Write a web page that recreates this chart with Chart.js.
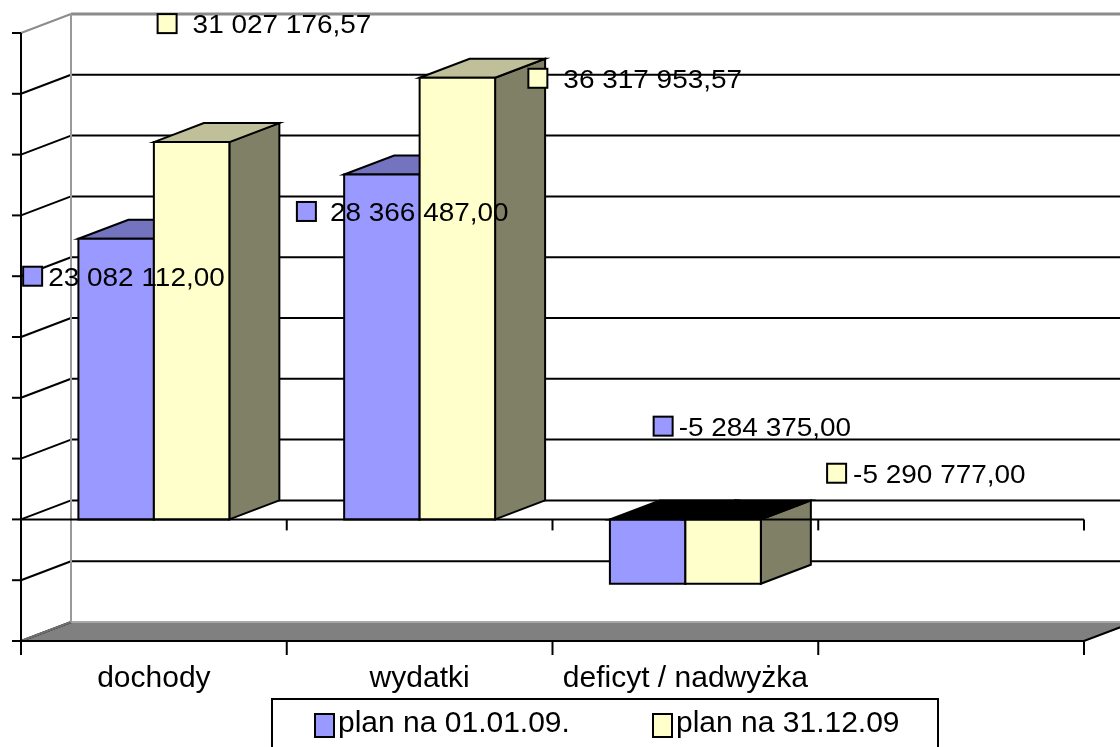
<!DOCTYPE html>
<html><head><meta charset="utf-8">
<script src="https://cdn.jsdelivr.net/npm/chart.js@4.4.1/dist/chart.umd.min.js"></script>
<style>html,body{margin:0;padding:0;background:#fff;overflow:hidden}canvas{display:block}</style>
</head><body>
<canvas id="c" width="1120" height="747"></canvas>
<script>
// ---- data ----
const categories = ['dochody', 'wydatki', 'deficyt / nadwyżka', ''];
const seriesNames = ['plan na 01.01.09.', 'plan na 31.12.09'];
const planStart = [23082112.00, 28366487.00, -5284375.00, null];
const planEnd = [31027176.57, 36317953.57, -5290777.00, null];
const yMin = -10000000, yMax = 40000000, yStep = 5000000;

// ---- style ----
const frontColors = ['#9999FF', '#FFFFCC'];
const topColors = ['#7373BF', '#BFBF99'];
const sideColors = ['#4D4D80', '#808066'];
const DX = 50, DY = -19;
const FONT = '"Liberation Sans", Arial, sans-serif';
// label placement relative to bar centre / value pixel: [squareDx, textDx, baselineDy]
const labelOffsets = [
  [[-93, -68, 47], [-85, -52, 46.5], [6, 31, -148]],
  [[-34, 1, -109], [71, 106, 10], [104, 130, -101]]
];

function fmt(v) {
  const neg = v < 0;
  let s = Math.abs(v).toFixed(2);
  let [i, d] = s.split('.');
  i = i.replace(/\B(?=(\d{3})+(?!\d))/g, ' ');
  return (neg ? '-' : '') + i + ',' + d;
}
function line(ctx, x1, y1, x2, y2, col, lw) {
  ctx.beginPath(); ctx.moveTo(x1, y1); ctx.lineTo(x2, y2);
  ctx.strokeStyle = col; ctx.lineWidth = lw; ctx.stroke();
}
function poly(ctx, pts, fill, stroke, lw) {
  ctx.beginPath(); ctx.moveTo(pts[0][0], pts[0][1]);
  for (let k = 1; k < pts.length; k++) ctx.lineTo(pts[k][0], pts[k][1]);
  ctx.closePath();
  if (fill) { ctx.fillStyle = fill; ctx.fill(); }
  if (stroke) { ctx.strokeStyle = stroke; ctx.lineWidth = lw; ctx.lineJoin = 'miter'; ctx.stroke(); }
}

const threeD = {
  id: 'threeD',
  beforeDatasetsDraw(chart) {
    const ctx = chart.ctx, a = chart.chartArea, y = chart.scales.y;
    const W = chart.width;
    const n = categories.length, slot = (a.right - a.left) / n;
    ctx.save();
    const fb = a.bottom;
    // floor
    poly(ctx, [[a.left, fb], [a.left + DX, fb + DY], [a.right + DX, fb + DY], [a.right, fb]], '#808080', '#000', 2);
    line(ctx, a.left + DX, fb + DY, W, fb + DY, '#a8a8a8', 2);
    line(ctx, a.left, fb, a.left + DX, fb + DY, '#707070', 2);
    // back & side wall gridlines
    for (let v = yMin + yStep; v <= yMax; v += yStep) {
      const yf = y.getPixelForValue(v), yb = yf + DY;
      const col = v === yMax ? '#8c8c8c' : '#000';
      line(ctx, a.left, yf, a.left + DX, yb, col, 2);
      line(ctx, a.left + DX, yb, W, yb, col, v === yMax ? 3 : 2);
    }
    // back wall left edge
    line(ctx, a.left + DX, a.top + DY, a.left + DX, fb + DY, '#999', 2);
    // value axis
    line(ctx, a.left, a.top, a.left, fb, '#000', 2);
    for (let v = yMin; v <= yMax; v += yStep) {
      const yf = y.getPixelForValue(v);
      line(ctx, a.left - 9, yf, a.left, yf, '#000', 2);
    }
    // category axis on floor
    line(ctx, a.left, fb, a.right, fb, '#000', 2);
    for (let k = 0; k <= n; k++) {
      const xk = a.left + k * slot;
      line(ctx, xk, fb, xk, fb + 14, '#000', 2);
    }
    ctx.restore();
  },
  afterDatasetsDraw(chart) {
    const ctx = chart.ctx, a = chart.chartArea, y = chart.scales.y, x = chart.scales.x;
    const n = categories.length, slot = (a.right - a.left) / n;
    const metas = chart.data.datasets.map((d, i) => chart.getDatasetMeta(i));
    ctx.save();
    // bars in painter's order
    for (let i = 0; i < n; i++) {
      metas.forEach((meta, d) => {
        const v = chart.data.datasets[d].data[i];
        if (v === null || v === undefined) return;
        const bar = meta.data[i];
        const x0 = bar.x - bar.width / 2, x1 = bar.x + bar.width / 2;
        const yT = Math.min(bar.y, bar.base), yB = Math.max(bar.y, bar.base);
        poly(ctx, [[x1, yT], [x1 + DX, yT + DY], [x1 + DX, yB + DY], [x1, yB]], sideColors[d], '#000', 2);
        poly(ctx, [[x0, yT], [x0 + DX, yT + DY], [x1 + DX, yT + DY], [x1, yT]], v < 0 ? '#000' : topColors[d], '#000', 2);
        poly(ctx, [[x0, yT], [x1, yT], [x1, yB], [x0, yB]], frontColors[d], '#000', 2);
      });
    }
    // zero line with ticks
    const y0 = y.getPixelForValue(0);
    line(ctx, a.left, y0, a.right, y0, '#000', 2);
    for (let k = 1; k <= n; k++) {
      const xk = a.left + k * slot;
      line(ctx, xk, y0, xk, y0 + 11, '#000', 2);
    }
    // data labels
    ctx.font = '26px ' + FONT;
    ctx.textBaseline = 'alphabetic';
    ctx.textAlign = 'left';
    metas.forEach((meta, d) => {
      chart.data.datasets[d].data.forEach((v, i) => {
        if (v === null || v === undefined) return;
        const bar = meta.data[i];
        const off = labelOffsets[d][i];
        const sx = bar.x + off[0], tx = bar.x + off[1], by = bar.y + off[2];
        ctx.fillStyle = frontColors[d];
        ctx.fillRect(sx, by - 19, 19, 19);
        ctx.strokeStyle = '#000'; ctx.lineWidth = 2;
        ctx.strokeRect(sx, by - 19, 19, 19);
        ctx.save();
        ctx.translate(tx, by);
        ctx.scale(1.075, 1);
        ctx.fillStyle = '#000';
        ctx.fillText(fmt(v), 0, 0);
        ctx.restore();
      });
    });
    // category labels
    ctx.font = '30px ' + FONT;
    ctx.textAlign = 'center';
    ctx.fillStyle = '#000';
    categories.forEach((c, i) => {
      if (!c) return;
      ctx.fillText(c, x.getPixelForValue(i), a.bottom + 46);
    });
    // legend
    const lx = 272, ly = 699, lw = 666;
    ctx.fillStyle = '#fff';
    ctx.fillRect(lx, ly, lw, 60);
    ctx.strokeStyle = '#000'; ctx.lineWidth = 2;
    ctx.strokeRect(lx, ly, lw, 60);
    const entryX = [315, 653];
    ctx.textAlign = 'left';
    ctx.font = '30px ' + FONT;
    seriesNames.forEach((s, d) => {
      ctx.fillStyle = frontColors[d];
      ctx.fillRect(entryX[d], 714, 19, 23);
      ctx.strokeStyle = '#000'; ctx.lineWidth = 2;
      ctx.strokeRect(entryX[d], 714, 19, 23);
      ctx.fillStyle = '#000';
      ctx.fillText(s, entryX[d] + 23, 732);
    });
    ctx.restore();
  }
};

new Chart(document.getElementById('c'), {
  type: 'bar',
  data: {
    labels: categories,
    datasets: [
      { label: seriesNames[0], data: planStart, backgroundColor: frontColors[0], borderColor: '#000', borderWidth: 2 },
      { label: seriesNames[1], data: planEnd, backgroundColor: frontColors[1], borderColor: '#000', borderWidth: 2 }
    ]
  },
  options: {
    responsive: false,
    animation: false,
    devicePixelRatio: 1,
    events: [],
    layout: { padding: { left: 21, top: 33, right: 36, bottom: 106 } },
    datasets: { bar: { categoryPercentage: 0.568, barPercentage: 1.0 } },
    plugins: { legend: { display: false }, tooltip: { enabled: false } },
    scales: {
      x: { display: false, offset: true },
      y: { display: false, min: yMin, max: yMax, ticks: { stepSize: yStep } }
    }
  },
  plugins: [threeD]
});
</script>
</body></html>
